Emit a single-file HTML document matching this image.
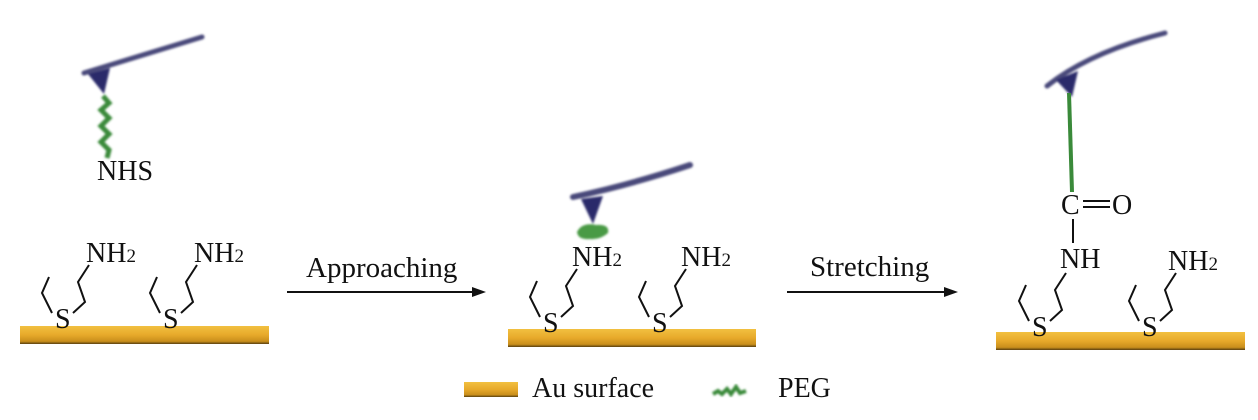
<!DOCTYPE html>
<html><head><meta charset="utf-8"><style>
html,body{margin:0;padding:0;background:#fff;}
svg{display:block;}
text{font-family:"Liberation Serif",serif;fill:#111;}
</style></head><body>
<svg width="1258" height="420" viewBox="0 0 1258 420" xmlns="http://www.w3.org/2000/svg">
<defs>
<linearGradient id="au" x1="0" y1="0" x2="0" y2="1">
<stop offset="0" stop-color="#f2c040"/><stop offset="0.5" stop-color="#e7a92a"/><stop offset="0.85" stop-color="#c98f1c"/><stop offset="1" stop-color="#5a4010"/>
</linearGradient>
<filter id="bl" x="-20%" y="-50%" width="140%" height="200%"><feGaussianBlur stdDeviation="1"/></filter>
<g id="mol" fill="none" stroke="#111" stroke-width="2">
<polyline points="-6,-51 -13,-35 -3,-15"/>
<polyline points="18,-15 30,-26 23,-46 34,-63"/>
</g>
</defs>

<rect x="20" y="326" width="249" height="18" fill="url(#au)"/>
<rect x="508" y="329" width="248" height="18" fill="url(#au)"/>
<rect x="996" y="332" width="249" height="18" fill="url(#au)"/>

<!-- panel 1 -->
<g filter="url(#bl)">
<line x1="84" y1="73" x2="202" y2="37" stroke="#4a4a7a" stroke-width="5" stroke-linecap="round"/>
<polygon points="88,74 110,68 104,94" fill="#2a2a6a"/>
<polyline points="103,96 109,103 101,110 109,118 101,126 109,134 101,142 109,150 107,158" fill="none" stroke="#3a8a3a" stroke-width="5"/>
</g>
<text x="97" y="180" font-size="28">NHS</text>

<use href="#mol" x="55" y="328"/>
<text x="55" y="328" font-size="28">S</text>
<text x="86" y="262" font-size="28">NH<tspan font-size="19">2</tspan></text>
<use href="#mol" x="163" y="328"/>
<text x="163" y="328" font-size="28">S</text>
<text x="194" y="262" font-size="28">NH<tspan font-size="19">2</tspan></text>

<text x="306" y="277" font-size="29">Approaching</text>
<line x1="287" y1="292" x2="476" y2="292" stroke="#111" stroke-width="2"/>
<polygon points="486,292 472,287 472,297" fill="#111"/>

<!-- panel 2 -->
<g filter="url(#bl)">
<path d="M573,197 Q630,185 690,165" fill="none" stroke="#4a4a7a" stroke-width="6" stroke-linecap="round"/>
<polygon points="581,199 603,196 593,224" fill="#2a2a6a"/>
<path d="M577,232 Q582,222 596,225 Q610,224 608,233 Q600,240 590,239 Q578,240 577,232 Z" fill="#4a9a45"/>
</g>
<use href="#mol" x="543" y="332"/>
<text x="543" y="332" font-size="28">S</text>
<text x="572" y="266" font-size="28">NH<tspan font-size="19">2</tspan></text>
<use href="#mol" x="652" y="332"/>
<text x="652" y="332" font-size="28">S</text>
<text x="681" y="266" font-size="28">NH<tspan font-size="19">2</tspan></text>

<text x="810" y="276" font-size="29">Stretching</text>
<line x1="787" y1="292" x2="948" y2="292" stroke="#111" stroke-width="2"/>
<polygon points="958,292 944,287 944,297" fill="#111"/>

<!-- panel 3 -->
<g filter="url(#bl)">
<path d="M1047,86 Q1090,52 1165,33" fill="none" stroke="#4a4a7a" stroke-width="5" stroke-linecap="round"/>
<polygon points="1056,80 1078,71 1072,97" fill="#2a2a6a"/>
</g>
<line x1="1069" y1="93" x2="1072" y2="192" stroke="#3a8a3a" stroke-width="4"/>
<text x="1061" y="214" font-size="28">C</text>
<line x1="1083" y1="201" x2="1110" y2="201" stroke="#111" stroke-width="2"/>
<line x1="1083" y1="207" x2="1110" y2="207" stroke="#111" stroke-width="2"/>
<text x="1112" y="214" font-size="28">O</text>
<line x1="1073" y1="219" x2="1073" y2="243" stroke="#111" stroke-width="2"/>
<text x="1060" y="268" font-size="28">NH</text>
<use href="#mol" x="1032" y="336"/>
<text x="1032" y="336" font-size="28">S</text>
<use href="#mol" x="1142" y="336"/>
<text x="1142" y="336" font-size="28">S</text>
<text x="1168" y="270" font-size="28">NH<tspan font-size="19">2</tspan></text>

<rect x="464" y="382" width="54" height="15" fill="url(#au)"/>
<text x="532" y="397" font-size="28">Au surface</text>
<polyline points="713,394 718,391 722,394 727,389 731,394 736,387 740,393 746,391" fill="none" stroke="#3a8a3a" stroke-width="4" filter="url(#bl)"/>
<text x="778" y="397" font-size="28">PEG</text>
</svg>
</body></html>
